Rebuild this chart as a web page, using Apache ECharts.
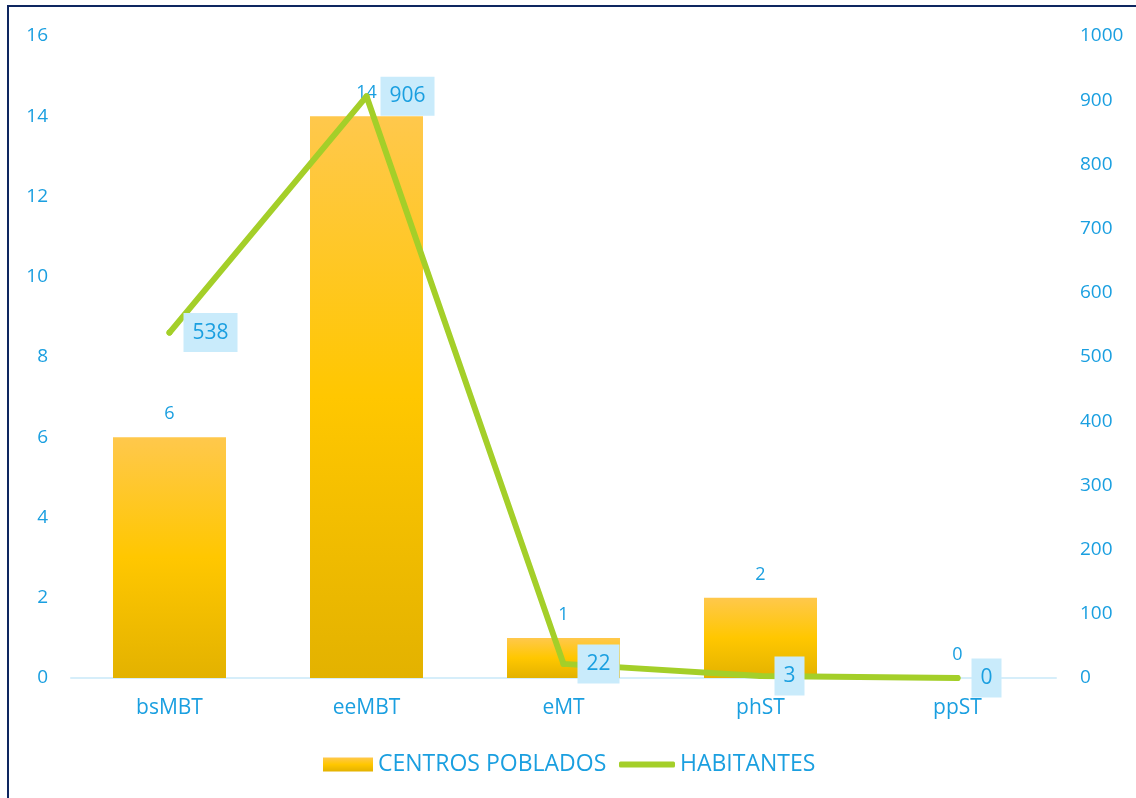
<!DOCTYPE html>
<html>
<head>
<meta charset="utf-8">
<script src="https://cdn.jsdelivr.net/npm/echarts@6/dist/echarts.min.js"></script>
<style>
  html, body { margin: 0; padding: 0; background: #fff; }
  #chart { width: 1136px; height: 798px; }
  .frame {
    position: absolute; left: 7px; top: 5px; width: 1140px; height: 800px;
    border-left: 2px solid #0e2660; border-top: 2px solid #0e2660;
    pointer-events: none;
  }
</style>
</head>
<body>
<div id="chart"></div>
<div class="frame"></div>
<script>
// categorias y valores
const categories = ['bsMBT', 'eeMBT', 'eMT', 'phST', 'ppST'];
const centrosPoblados = [6, 14, 1, 2, 0];
const habitantes = [538, 906, 22, 3, 0];

const blue = '#1a9fe0';
const green = '#a4cf29';
const fontFam = '"Open Sans", Lato, sans-serif';

const chart = echarts.init(document.getElementById('chart'));

const option = {
  animation: false,
  textStyle: { fontFamily: fontFam },
  grid: { left: 71, right: 80, top: 36, bottom: 120 },
  legend: [
    {
      left: 318, top: 748,
      itemWidth: 50, itemHeight: 14,
      icon: 'rect',
      textStyle: { color: blue, fontSize: 23, fontFamily: fontFam },
      data: ['CENTROS POBLADOS']
    },
    {
      left: 614, top: 748,
      itemWidth: 56, itemHeight: 6,
      icon: 'roundRect',
      textStyle: { color: blue, fontSize: 23, fontFamily: fontFam },
      data: ['HABITANTES']
    }
  ],
  xAxis: {
    type: 'category',
    data: categories,
    axisLine: { lineStyle: { color: '#d6eefa', width: 2 } },
    axisTick: { show: false },
    axisLabel: { color: blue, fontSize: 21, margin: 20 }
  },
  yAxis: [
    {
      type: 'value', min: 0, max: 16, interval: 2,
      splitLine: { show: false },
      axisLine: { show: false },
      axisLabel: { color: blue, fontSize: 19, margin: 23 }
    },
    {
      type: 'value', min: 0, max: 1000, interval: 100,
      position: 'right',
      splitLine: { show: false },
      axisLine: { show: false },
      axisLabel: { color: blue, fontSize: 19, margin: 24, formatter: v => String(v) }
    }
  ],
  series: [
    {
      name: 'CENTROS POBLADOS',
      type: 'bar',
      yAxisIndex: 0,
      data: centrosPoblados,
      barWidth: 113,
      itemStyle: {
        color: new echarts.graphic.LinearGradient(0, 0, 0, 1, [
          { offset: 0, color: '#ffc84c' },
          { offset: 0.5, color: '#ffc700' },
          { offset: 1, color: '#e3b200' }
        ])
      },
      label: {
        show: true, position: 'top', distance: 14,
        color: blue, fontSize: 18
      }
    },
    {
      name: 'HABITANTES',
      type: 'line',
      yAxisIndex: 1,
      data: habitantes,
      symbol: 'circle',
      symbolSize: 6,
      lineStyle: { color: green, width: 6, cap: 'round', join: 'round' },
      itemStyle: { color: green },
      label: {
        show: true, position: 'right', distance: 11,
        color: blue, fontSize: 21,
        backgroundColor: '#c9ebfb',
        padding: [10, 9, 8, 9]
      }
    }
  ]
};

chart.setOption(option);
</script>
</body>
</html>
